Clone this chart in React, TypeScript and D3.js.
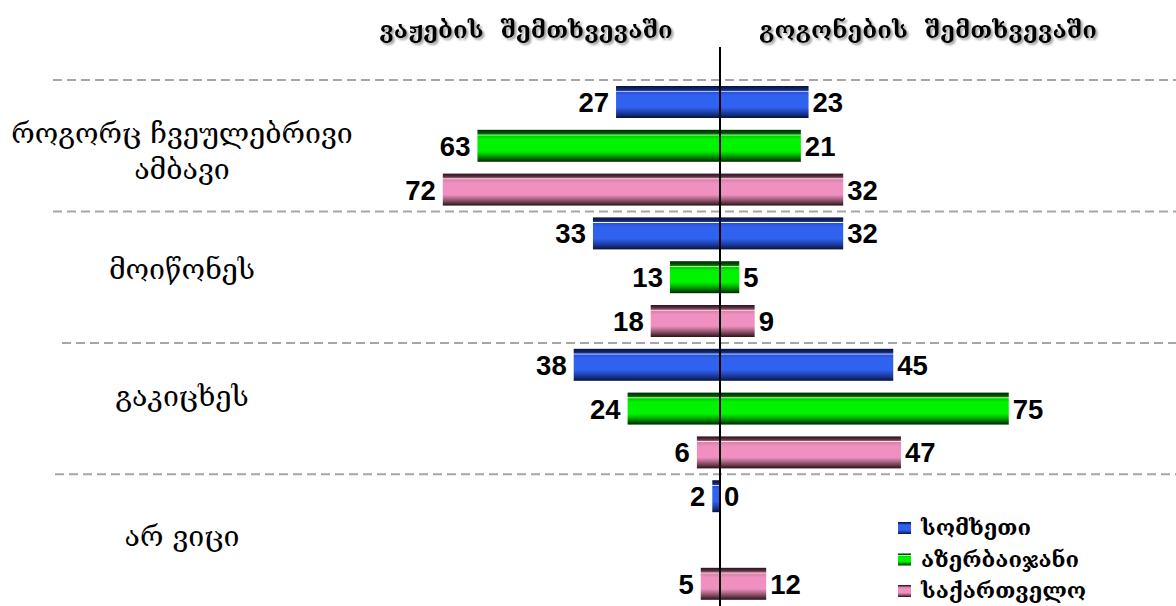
import React from "react";
import * as d3 from "d3";

const categories = ["როგორც ჩვეულებრივი ამბავი", "მოიწონეს", "გაკიცხეს", "არ ვიცი"];
const categoryLines = [["როგორც ჩვეულებრივი", "ამბავი"], ["მოიწონეს"], ["გაკიცხეს"], ["არ ვიცი"]];
const seriesNames = ["სომხეთი", "აზერბაიჯანი", "საქართველო"];
const boysArmenia = [27, 33, 38, 2];
const boysAzerbaijan: (number | null)[] = [63, 13, 24, null];
const boysGeorgia = [72, 18, 6, 5];
const girlsArmenia = [23, 32, 45, 0];
const girlsAzerbaijan: (number | null)[] = [21, 5, 75, null];
const girlsGeorgia = [32, 9, 47, 12];
const headerBoys = "ვაჟების  შემთხვევაში";
const headerGirls = "გოგონების  შემთხვევაში";

const W = 1176;
const H = 606;
const CX = 720;
const GEO_FONT = "'DejaVu Serif', 'DejaVu Sans', serif";
const NUM_FONT = "'Liberation Sans', Arial, sans-serif";
const labelShift = [6, -7, -12, -3];

const gradients = [
  { id: "gBlue", stops: [["0", "#06123a"], ["0.09", "#0d2466"], ["0.14", "#1a3aa0"], ["0.16", "#ffffff"], ["0.19", "#2a50d8"], ["0.3", "#3062f0"], ["0.66", "#3062f0"], ["0.78", "#2448c0"], ["0.9", "#143080"], ["1", "#06103a"]] },
  { id: "gGreen", stops: [["0", "#002a00"], ["0.09", "#005000"], ["0.14", "#008800"], ["0.16", "#e0ffe0"], ["0.19", "#00d000"], ["0.3", "#00f400"], ["0.66", "#00f400"], ["0.78", "#00b800"], ["0.9", "#006a00"], ["1", "#002800"]] },
  { id: "gPink", stops: [["0", "#2a1020"], ["0.09", "#5a3040"], ["0.14", "#a06078"], ["0.16", "#fff0f6"], ["0.19", "#d880a8"], ["0.3", "#f090c0"], ["0.66", "#f090c0"], ["0.78", "#b06888"], ["0.9", "#6a3a4c"], ["1", "#2a1018"]] },
];

export default function App() {
  const left = [boysArmenia, boysAzerbaijan, boysGeorgia];
  const right = [girlsArmenia, girlsAzerbaijan, girlsGeorgia];
  const rows: { key: string; cat: number; s: number; l: number | null; r: number | null }[] = [];
  categories.forEach((c, ci) => {
    seriesNames.forEach((sn, si) => {
      rows.push({ key: `${ci}-${si}`, cat: ci, s: si, l: left[si][ci], r: right[si][ci] });
    });
  });

  const x = d3.scaleLinear().domain([-100, 100]).range([CX - 385, CX + 385]);
  const y = d3
    .scaleBand<string>()
    .domain(rows.map((r) => r.key))
    .range([80.1, 605.7])
    .paddingInner(0.27)
    .paddingOuter(0.135);
  const step = y.step();
  const bw = y.bandwidth();
  const sepStarts = [53, 53, 62, 55];

  return (
    <svg width={W} height={H} style={{ position: "absolute", left: 0, top: 0, background: "#fff" }}>
      <defs>
        {gradients.map((g) => (
          <linearGradient key={g.id} id={g.id} x1="0" y1="0" x2="0" y2="1">
            {g.stops.map(([o, c], i) => (
              <stop key={i} offset={o} stopColor={c} />
            ))}
          </linearGradient>
        ))}
        <filter id="shadow" x="-10%" y="-30%" width="120%" height="160%">
          <feDropShadow dx="2" dy="2" stdDeviation="1" floodColor="#888" floodOpacity="0.8" />
        </filter>
      </defs>

      {/* headers */}
      <text x={526} y={38} textAnchor="middle" fontFamily={GEO_FONT} fontWeight="bold" fontSize={24} filter="url(#shadow)" style={{ whiteSpace: "pre" }}>
        {headerBoys}
      </text>
      <text x={928} y={38} textAnchor="middle" fontFamily={GEO_FONT} fontWeight="bold" fontSize={24} filter="url(#shadow)" style={{ whiteSpace: "pre" }}>
        {headerGirls}
      </text>

      {/* separators */}
      {categories.map((c, ci) => {
        const yy = (y.range()[0] as number) + ci * 3 * step;
        return (
          <line key={c} x1={sepStarts[ci]} x2={W} y1={yy} y2={yy} stroke="#a6a6a6" strokeWidth={2} strokeDasharray="9,5" />
        );
      })}

      {/* category labels */}
      {categoryLines.map((lines, ci) => {
        const cy = (y(`${ci}-1`) as number) + bw / 2 + labelShift[ci];
        const lh = 36;
        const y0 = cy - ((lines.length - 1) * lh) / 2 + 9;
        return (
          <text key={ci} textAnchor="middle" fontFamily={GEO_FONT} fontSize={28.5}>
            {lines.map((ln, li) => (
              <tspan key={li} x={182} y={y0 + li * lh} style={{ whiteSpace: "pre" }}>
                {ln}
              </tspan>
            ))}
          </text>
        );
      })}

      {/* bars */}
      {rows.map((r) => {
        if (r.l === null && r.r === null) return null;
        const y0 = y(r.key) as number;
        const xl = x(-(r.l ?? 0));
        const xr = x(r.r ?? 0);
        const fill = `url(#${gradients[r.s].id})`;
        return (
          <g key={r.key}>
            <rect x={xl} y={y0} width={Math.max(0, xr - xl)} height={bw} fill={fill} />
            <text x={xl - 7} y={y0 + bw / 2 + 10} textAnchor="end" fontFamily={NUM_FONT} fontWeight="bold" fontSize={27.5}>
              {r.l}
            </text>
            <text x={xr + 4} y={y0 + bw / 2 + 10} textAnchor="start" fontFamily={NUM_FONT} fontWeight="bold" fontSize={27.5}>
              {r.r}
            </text>
          </g>
        );
      })}

      {/* center axis */}
      <line x1={CX} x2={CX} y1={47} y2={H} stroke="#000" strokeWidth={2} />

      {/* legend */}
      {seriesNames.map((s, si) => {
        const ly = 528 + si * 31.5;
        return (
          <g key={s}>
            <rect x={898} y={ly - 6} width={13} height={12} fill={`url(#${gradients[si].id})`} />
            <text x={921} y={ly + 7} fontFamily={GEO_FONT} fontSize={22} fontWeight="bold">
              {s}
            </text>
          </g>
        );
      })}
    </svg>
  );
}
